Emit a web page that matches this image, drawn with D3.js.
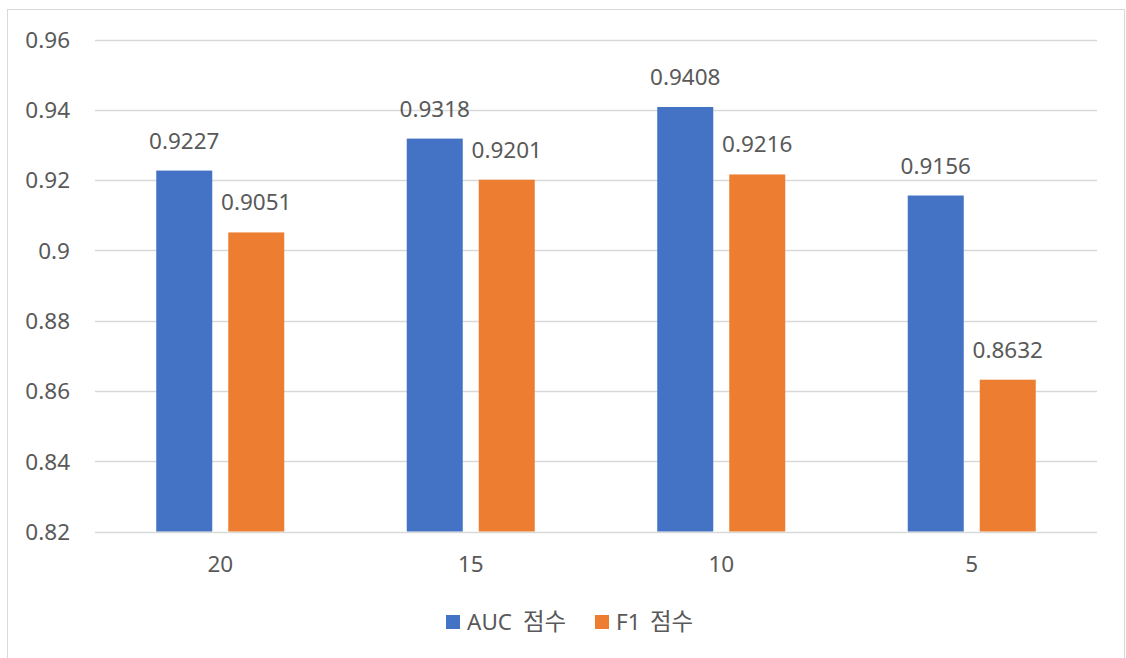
<!DOCTYPE html>
<html>
<head>
<meta charset="utf-8">
<script src="https://cdn.jsdelivr.net/npm/d3@7"></script>
<style>
  html, body { margin: 0; padding: 0; background: #fff; }
  svg { display: block; }
  text { font-family: "Noto Sans", "Noto Sans CJK KR", sans-serif; fill: #595959; }
</style>
</head>
<body>
<svg id="chart" width="1126" height="658"></svg>
<script>
// Feature-count settings and their scores
const categories = ["20", "15", "10", "5"];
const seriesNames = ["AUC 점수", "F1 점수"];
const aucScores = [0.9227, 0.9318, 0.9408, 0.9156];
const f1Scores = [0.9051, 0.9201, 0.9216, 0.8632];
const yTicks = [0.82, 0.84, 0.86, 0.88, 0.9, 0.92, 0.94, 0.96];
const colors = ["#4472C4", "#ED7D31"];
const fontSize = 22.5;

const svg = d3.select("#chart");
const W = 1126, H = 658;

// Outer frame
svg.append("rect")
  .attr("x", 7.5).attr("y", 9.5)
  .attr("width", W - 9).attr("height", H - 9)
  .attr("fill", "#fff").attr("stroke", "#d9d9d9").attr("stroke-width", 1);

const plot = { left: 95, right: 1097, top: 39.5, bottom: 531.5 };

const x = d3.scaleBand().domain(categories).range([plot.left, plot.right]);
const y = d3.scaleLinear().domain([0.82, 0.96]).range([plot.bottom, plot.top]);

// Horizontal gridlines
svg.append("g").selectAll("line").data(yTicks).join("line")
  .attr("x1", plot.left).attr("x2", plot.right)
  .attr("y1", d => Math.round(y(d)) + 0.5).attr("y2", d => Math.round(y(d)) + 0.5)
  .attr("stroke", "#d9d9d9").attr("stroke-width", 1.3);

// Y axis labels
const yAxis = d3.axisLeft(y).tickValues(yTicks).tickSize(0).tickPadding(0)
  .tickFormat(d => d3.format("")(+d.toFixed(2)));
const gy = svg.append("g").attr("transform", `translate(70,0)`).call(yAxis);
gy.select(".domain").remove();
gy.selectAll("text").attr("font-size", fontSize).attr("fill", "#595959")
  .attr("font-family", "'Noto Sans', sans-serif").attr("dy", "0.35em");

// X axis labels
const xAxis = d3.axisBottom(x).tickSize(0).tickPadding(0);
const gx = svg.append("g").attr("transform", `translate(0,${plot.bottom + 25})`).call(xAxis);
gx.select(".domain").remove();
gx.selectAll("text").attr("font-size", fontSize).attr("fill", "#595959")
  .attr("font-family", "'Noto Sans', sans-serif");

// Bars
const barW = 56, gap = 16;
const series = [aucScores, f1Scores];
const offsets = [-(barW + gap / 2), gap / 2];

series.forEach((vals, si) => {
  const g = svg.append("g");
  g.selectAll("rect").data(vals).join("rect")
    .attr("x", (d, i) => x.bandwidth() / 2 + x(categories[i]) + offsets[si])
    .attr("y", d => y(d))
    .attr("width", barW)
    .attr("height", d => plot.bottom - y(d))
    .attr("fill", colors[si]);
  g.selectAll("text").data(vals).join("text")
    .attr("x", (d, i) => x.bandwidth() / 2 + x(categories[i]) + offsets[si] + barW / 2)
    .attr("y", d => y(d) - 22)
    .attr("text-anchor", "middle")
    .attr("font-size", fontSize)
    .text(d => d.toFixed(4));
});

// Legend: latin prefix plus Korean word, each placed on its own
const legend = svg.append("g");
const legendItems = [
  { x: 446, name: seriesNames[0], c: colors[0], kx: 77 },
  { x: 595, name: seriesNames[1], c: colors[1], kx: 55 }
];
legendItems.forEach(it => {
  const [latin, korean] = it.name.split(" ");
  legend.append("rect").attr("x", it.x).attr("y", 615).attr("width", 14).attr("height", 14).attr("fill", it.c);
  const t = legend.append("text").attr("y", 630).attr("font-size", fontSize);
  t.append("tspan").attr("x", it.x + 21).text(latin);
  t.append("tspan").attr("x", it.x + it.kx).attr("font-size", 23.5)
    .attr("font-family", "'Noto Sans CJK KR', sans-serif").text(korean);
});
</script>
</body>
</html>
